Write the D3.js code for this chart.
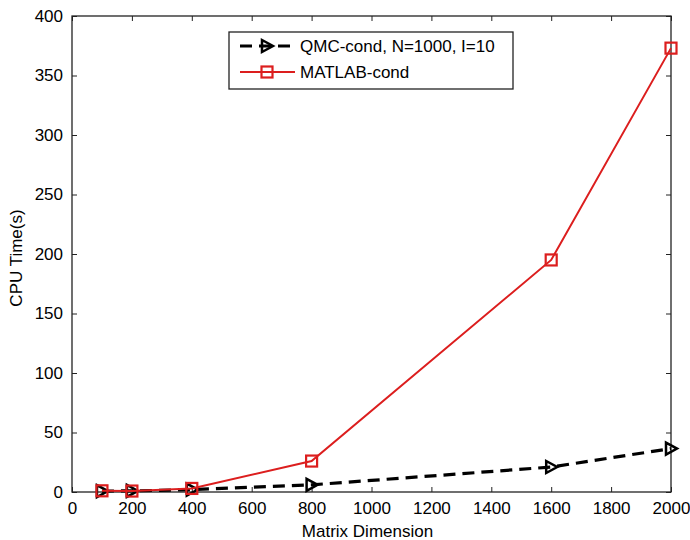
<!DOCTYPE html>
<html>
<head>
<meta charset="utf-8">
<script src="https://cdn.jsdelivr.net/npm/d3@7"></script>
<style>
  body { margin: 0; background: #fff; }
  text { font-family: "Liberation Sans", Arial, sans-serif; fill: #000; }
</style>
</head>
<body>
<script>
// data
var dims = [100, 200, 400, 800, 1600, 2000];
var qmcTime = [0.8, 0.9, 2, 6, 21, 36.5];
var matlabTime = [1, 0.8, 3, 26, 195, 373];
var xTicks = [0, 200, 400, 600, 800, 1000, 1200, 1400, 1600, 1800, 2000];
var yTicks = [0, 50, 100, 150, 200, 250, 300, 350, 400];
var legendNames = ["QMC-cond, N=1000, I=10", "MATLAB-cond"];

var margin = {top: 16, right: 19, bottom: 48, left: 72},
  width = 690 - margin.left - margin.right,
  height = 540 - margin.top - margin.bottom;

var svg = d3.select("body").append("svg")
  .attr("width", 690)
  .attr("height", 540);

var g = svg.append("g")
  .attr("transform", "translate(" + margin.left + "," + margin.top + ")");

var x = d3.scaleLinear().domain([0, 2000]).range([0, width]);
var y = d3.scaleLinear().domain([0, 400]).range([height, 0]);

var red = "#dc1e1e";
var tick = 5;

// axes, ticks inside, mirrored on all sides
g.append("g")
  .attr("transform", "translate(0," + height + ")")
  .call(d3.axisBottom(x).tickValues(xTicks).tickSize(-tick).tickPadding(10).tickFormat(d3.format("d")))
  .call(function(a) { a.select(".domain").remove(); });
g.append("g")
  .call(d3.axisTop(x).tickValues(xTicks).tickSize(-tick).tickFormat(""))
  .call(function(a) { a.select(".domain").remove(); });
g.append("g")
  .call(d3.axisLeft(y).tickValues(yTicks).tickSize(-tick).tickPadding(9).tickFormat(d3.format("d")))
  .call(function(a) { a.select(".domain").remove(); });
g.append("g")
  .attr("transform", "translate(" + width + ",0)")
  .call(d3.axisRight(y).tickValues(yTicks).tickSize(-tick).tickFormat(""))
  .call(function(a) { a.select(".domain").remove(); });

g.selectAll(".tick text").style("font-size", "17px").style("font-family", "'Liberation Sans', Arial, sans-serif");
g.selectAll(".tick line").attr("stroke", "#222");

g.append("rect")
  .attr("width", width).attr("height", height)
  .attr("fill", "none").attr("stroke", "#222").attr("stroke-width", 1.3);

// axis labels
svg.append("text")
  .attr("x", margin.left + width / 2 - 4)
  .attr("y", 537)
  .attr("text-anchor", "middle")
  .style("font-size", "17px")
  .text("Matrix Dimension");

svg.append("text")
  .attr("transform", "translate(22," + (margin.top + height / 2 + 4) + ") rotate(-90)")
  .attr("text-anchor", "middle")
  .style("font-size", "17px")
  .text("CPU Time(s)");

var line = d3.line()
  .x(function(d) { return x(d[0]); })
  .y(function(d) { return y(d[1]); });

var qmc = dims.map(function(d, i) { return [d, qmcTime[i]]; });
var mat = dims.map(function(d, i) { return [d, matlabTime[i]]; });

var tri = "M-5,-6L6,0L-5,6Z";

function drawTri(sel, px, py) {
  sel.append("path")
    .attr("d", tri)
    .attr("transform", "translate(" + px + "," + py + ")")
    .attr("fill", "none").attr("stroke", "#000").attr("stroke-width", 2.5);
}
function drawSq(sel, px, py) {
  sel.append("rect")
    .attr("x", px - 5.5).attr("y", py - 5.5)
    .attr("width", 11).attr("height", 11)
    .attr("fill", "none").attr("stroke", red).attr("stroke-width", 2.2);
}

// QMC dashed series
g.append("path")
  .datum(qmc)
  .attr("d", line)
  .attr("fill", "none")
  .attr("stroke", "#000")
  .attr("stroke-width", 3.2)
  .attr("stroke-dasharray", "12,7");
qmc.forEach(function(d) { drawTri(g, x(d[0]), y(d[1])); });

// MATLAB series
g.append("path")
  .datum(mat)
  .attr("d", line)
  .attr("fill", "none")
  .attr("stroke", red)
  .attr("stroke-width", 2);
mat.forEach(function(d) { drawSq(g, x(d[0]), y(d[1])); });

// legend
var lg = svg.append("g");
lg.append("rect")
  .attr("x", 229).attr("y", 32).attr("width", 284).attr("height", 57)
  .attr("fill", "#fff").attr("stroke", "#222").attr("stroke-width", 1.3);

lg.append("line")
  .attr("x1", 240).attr("x2", 295).attr("y1", 46).attr("y2", 46)
  .attr("stroke", "#000").attr("stroke-width", 3.2).attr("stroke-dasharray", "12,7");
drawTri(lg, 267, 46);
lg.append("line")
  .attr("x1", 240).attr("x2", 295).attr("y1", 72).attr("y2", 72)
  .attr("stroke", red).attr("stroke-width", 2);
drawSq(lg, 267, 72);

lg.selectAll("text.leg")
  .data(legendNames)
  .enter().append("text")
  .attr("class", "leg")
  .attr("x", 300)
  .attr("y", function(d, i) { return 52 + i * 26; })
  .style("font-size", "17px")
  .text(function(d) { return d; });
</script>
</body>
</html>
